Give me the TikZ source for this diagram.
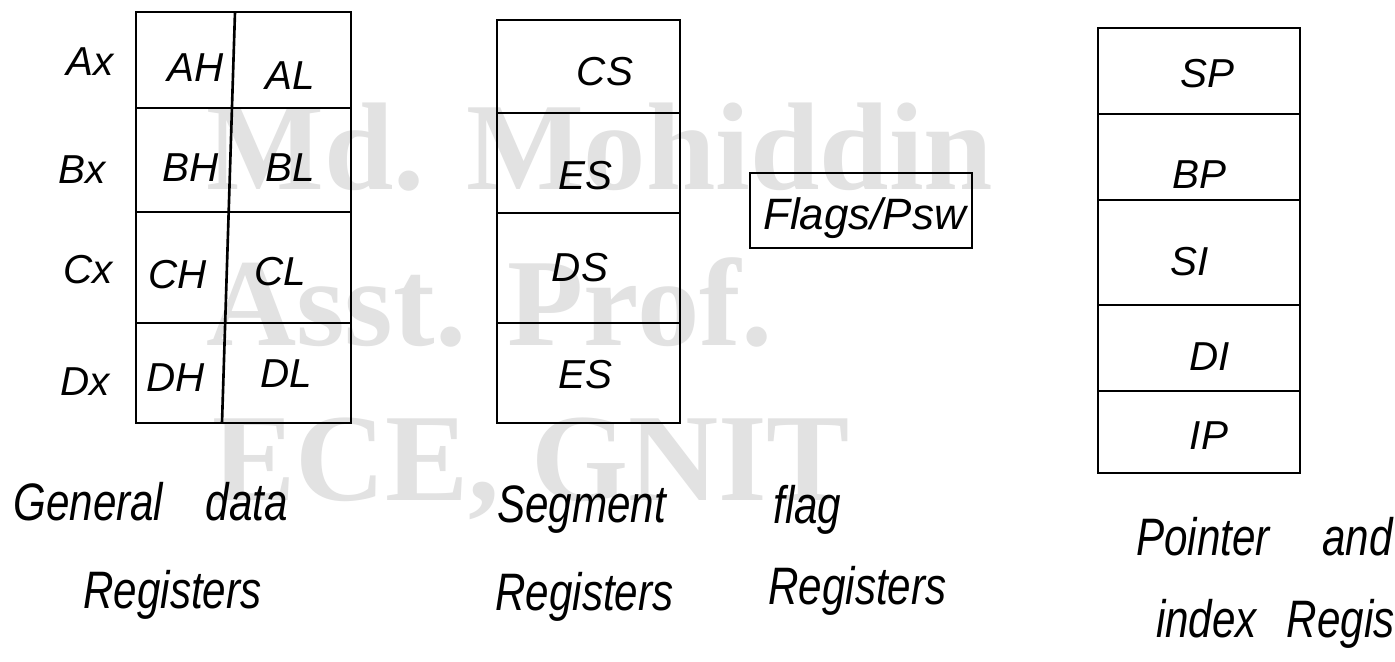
\documentclass[tikz,border=0pt]{standalone}
\usepackage{fontspec}
\newfontfamily\hand{Liberation Sans}[UprightFont=* Italic]
\newfontfamily\handnarrow{Liberation Sans}[UprightFont=* Italic, FakeStretch=0.8]
\newfontfamily\wmfont{Liberation Serif}[UprightFont=* Bold]
\definecolor{wmgray}{RGB}{226,226,226}
\tikzset{
  grid/.style={line width=1.5pt, black},
  lbl/.style={font=\hand\fontsize{23}{27}\selectfont, inner sep=0pt},
  capt/.style={font=\handnarrow\fontsize{30}{34}\selectfont, inner sep=0pt, anchor=base west},
  wm/.style={font=\wmfont\fontsize{71}{78}\selectfont, text=wmgray, anchor=base west, inner sep=0pt}
}
\begin{document}
\begin{tikzpicture}[x=0.02cm, y=-0.02cm]
\useasboundingbox (0,0) rectangle (1395,662);
\fill[white] (0,0) rectangle (1395,662);

% watermark
\node[wm] (wm1) at (206,190) {Md. Mohiddin};
\node[wm] (wm2) at (206,345) {Asst. Prof.};
\node[wm] (wm3) at (212,500) {ECE, GNIT};

% general data registers
\draw[grid] (136,12) rectangle (351,423);
\draw[grid] (235,12) -- (222,423);
\foreach \yy in {108,212,323} \draw[grid] (136,\yy) -- (351,\yy);
\node[lbl] (ax) at (90,62) {Ax};
\node[lbl] (bx) at (82,170) {Bx};
\node[lbl] (cx) at (88,270) {Cx};
\node[lbl] (dx) at (85,382) {Dx};
\node[lbl] (ah) at (196,68) {AH};
\node[lbl] (al) at (290,76) {AL};
\node[lbl] (bh) at (191,168) {BH};
\node[lbl] (bl) at (290,168) {BL};
\node[lbl] (ch) at (178,275) {CH};
\node[lbl] (cl) at (280,272) {CL};
\node[lbl] (dh) at (176,378) {DH};
\node[lbl] (dl) at (286,374) {DL};

% segment registers
\draw[grid] (497,20) rectangle (680,423);
\foreach \yy in {113,213,323} \draw[grid] (497,\yy) -- (680,\yy);
\node[lbl] (cs) at (605,72) {CS};
\node[lbl] (es1) at (585,176) {ES};
\node[lbl] (ds) at (580,268) {DS};
\node[lbl] (es2) at (585,375) {ES};

% flag register
\draw[grid] (750,173) rectangle (972,248);
\node[lbl, font=\hand\fontsize{25}{29}\selectfont, anchor=base west] (psw) at (763,230) {Flags/Psw};

% pointer and index registers
\draw[grid] (1098,28) rectangle (1300,473);
\foreach \yy in {114,200,305,391} \draw[grid] (1098,\yy) -- (1300,\yy);
\node[lbl] (sp) at (1207,74) {SP};
\node[lbl] (bp) at (1199,175) {BP};
\node[lbl] (si) at (1190,262) {SI};
\node[lbl] (di) at (1210,357) {DI};
\node[lbl] (ip) at (1209,436) {IP};

% captions
\node[capt] (c1a) at (13,520) {General\hspace{0.85cm}data};
\node[capt] (c1b) at (83,608) {Registers};
\node[capt] (c2a) at (497,522) {Segment};
\node[capt] (c2b) at (495,610) {Registers};
\node[capt] (c3a) at (773,523) {flag};
\node[capt] (c3b) at (768,604) {Registers};
\node[capt, anchor=base east] (c4a) at (1393,555) {Pointer\hspace{1.05cm}and};
\node[capt, anchor=base east] (c4b) at (1395,637) {index\hspace{0.6cm}Regis};
\end{tikzpicture}
\end{document}
